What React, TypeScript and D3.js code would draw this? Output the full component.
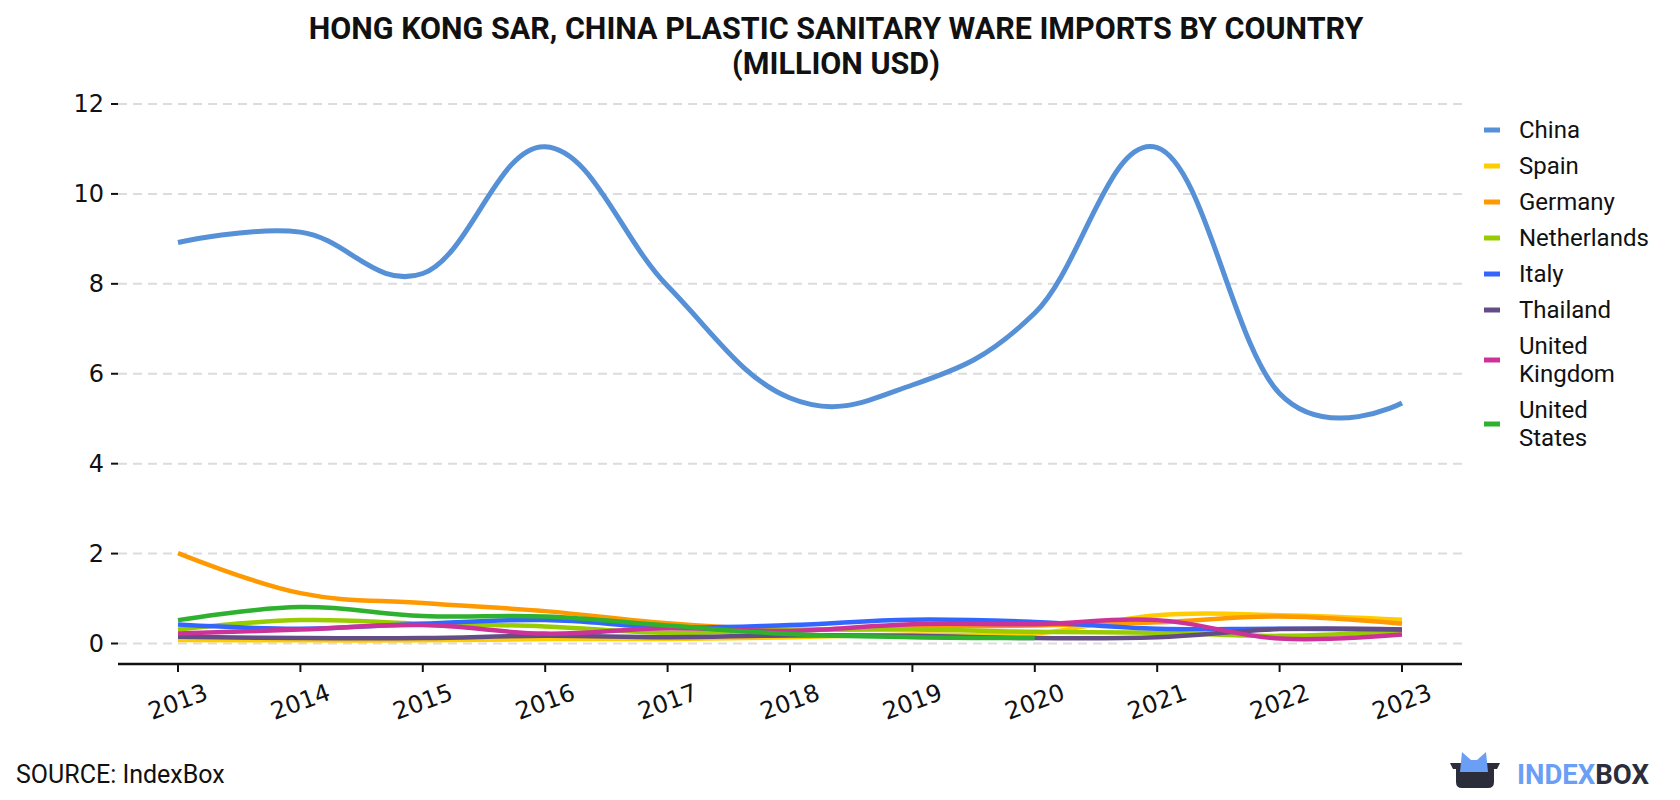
import React from "react";
import * as d3 from "d3";

const years = [2013, 2014, 2015, 2016, 2017, 2018, 2019, 2020, 2021, 2022, 2023];
const china = [8.92, 9.15, 8.23, 11.05, 7.95, 5.46, 5.75, 7.35, 11.03, 5.56, 5.35];
const spain = [0.08, 0.07, 0.07, 0.1, 0.1, 0.14, 0.2, 0.22, 0.63, 0.63, 0.53];
const germany = [2.01, 1.12, 0.9, 0.72, 0.45, 0.31, 0.37, 0.4, 0.47, 0.6, 0.44];
const netherlands = [0.31, 0.52, 0.44, 0.38, 0.24, 0.3, 0.31, 0.26, 0.24, 0.17, 0.28];
const italy = [0.42, 0.33, 0.44, 0.52, 0.36, 0.41, 0.53, 0.48, 0.33, 0.33, 0.31];
const thailand = [0.15, 0.12, 0.12, 0.17, 0.14, 0.18, 0.17, 0.12, 0.14, 0.32, 0.31];
const unitedKingdom = [0.22, 0.31, 0.41, 0.22, 0.34, 0.28, 0.43, 0.43, 0.52, 0.11, 0.2];
const unitedStates = [0.52, 0.81, 0.61, 0.6, 0.4, 0.21, 0.14, 0.12];

const seriesNames = [
  ["China"],
  ["Spain"],
  ["Germany"],
  ["Netherlands"],
  ["Italy"],
  ["Thailand"],
  ["United", "Kingdom"],
  ["United", "States"],
];
const seriesValues = [china, spain, germany, netherlands, italy, thailand, unitedKingdom, unitedStates];
const seriesColors = ["#5690d6", "#ffcc00", "#ff9900", "#99cc00", "#3366ff", "#634d87", "#cc3399", "#2eb12e"];

const yTicks = [0, 2, 4, 6, 8, 10, 12];
const titleLines = ["HONG KONG SAR, CHINA PLASTIC SANITARY WARE IMPORTS BY COUNTRY", "(MILLION USD)"];
const sourceText = "SOURCE: IndexBox";

export default function App() {
  const W = 1680;
  const H = 800;
  const x = d3.scaleLinear().domain([2013, 2023]).range([178, 1402]);
  const y = d3.scaleLinear().domain([0, 12]).range([643.5, 104]);
  const plotLeft = 118;
  const plotRight = 1462;
  const axisY = 664;

  const line = d3
    .line<[number, number]>()
    .x((d) => x(d[0]))
    .y((d) => y(d[1]))
    .curve(d3.curveCardinal.tension(-0.15));

  const legendItems: { names: string[]; color: string; swatchY: number; lineYs: number[] }[] = [];
  let ly = 130;
  seriesNames.forEach((names, i) => {
    const lineYs = names.map((_, k) => ly + k * 28);
    legendItems.push({ names, color: seriesColors[i], swatchY: ly + (names.length - 1) * 14, lineYs });
    ly += 36 + (names.length - 1) * 28;
  });

  return (
    <svg
      width={W}
      height={H}
      style={{ position: "absolute", left: 0, top: 0, background: "#fff" }}
      xmlns="http://www.w3.org/2000/svg"
    >
      <rect x={0} y={0} width={W} height={H} fill="#fff" />
      {titleLines.map((t, i) => (
        <text
          key={t}
          x={836}
          y={39 + i * 35}
          textAnchor="middle"
          fontFamily="Roboto"
          fontWeight={700}
          fontSize={30.5}
          fill="#111"
        >
          {t}
        </text>
      ))}

      {yTicks.map((t) => (
        <g key={t}>
          <line
            x1={plotLeft}
            x2={plotRight}
            y1={y(t)}
            y2={y(t)}
            stroke="#dcdcdc"
            strokeWidth={2}
            strokeDasharray="9,6"
          />
          <line x1={111} x2={118} y1={y(t)} y2={y(t)} stroke="#111" strokeWidth={2} />
          <text
            x={104}
            y={y(t)}
            textAnchor="end"
            dominantBaseline="central"
            fontFamily="DejaVu Sans"
            fontSize={24}
            fill="#111"
          >
            {t}
          </text>
        </g>
      ))}

      <line x1={plotLeft} x2={plotRight} y1={axisY} y2={axisY} stroke="#111" strokeWidth={2.5} />
      {years.map((yr) => (
        <g key={yr}>
          <line x1={x(yr)} x2={x(yr)} y1={axisY} y2={axisY + 8} stroke="#111" strokeWidth={2} />
          <text
            transform={`translate(${x(yr)},${axisY + 38}) rotate(-20)`}
            textAnchor="middle"
            dominantBaseline="central"
            fontFamily="DejaVu Sans"
            fontSize={24}
            fill="#111"
          >
            {yr}
          </text>
        </g>
      ))}

      {seriesValues.map((vals, i) => {
        const pts = vals.map((v, k) => [years[k], v] as [number, number]);
        return (
          <path
            key={i}
            d={line(pts) || ""}
            fill="none"
            stroke={seriesColors[i]}
            strokeWidth={i === 0 ? 5 : 4.5}
            strokeLinejoin="round"
          />
        );
      })}

      {legendItems.map((it, i) => (
        <g key={i}>
          <line x1={1484} x2={1500} y1={it.swatchY} y2={it.swatchY} stroke={it.color} strokeWidth={5} />
          {it.names.map((n, k) => (
            <text
              key={k}
              x={1519}
              y={it.lineYs[k]}
              dominantBaseline="central"
              fontFamily="Roboto"
              fontSize={24}
              fill="#111"
            >
              {n}
            </text>
          ))}
        </g>
      ))}

      <text x={16} y={774} dominantBaseline="central" fontFamily="Roboto" fontSize={25} fill="#111">
        {sourceText}
      </text>

      <g>
        <path
          d="M1450,763 L1500,763 L1497,769 L1494,769 L1494,782 Q1494,788 1488,788 L1462,788 Q1456,788 1456,782 L1456,769 L1453,769 Z"
          fill="#2b2d3a"
        />
        <path d="M1460,772 L1462,752 L1471,760 L1477,760 L1486,752 L1488,772 Z" fill="#6a9ff5" />
        <text x={1517} y={784} fontFamily="Roboto" fontWeight={700} fontSize={27.5} fill="#6a9ff5">
          INDEX
          <tspan fill="#2b2d3a">BOX</tspan>
        </text>
      </g>
    </svg>
  );
}
